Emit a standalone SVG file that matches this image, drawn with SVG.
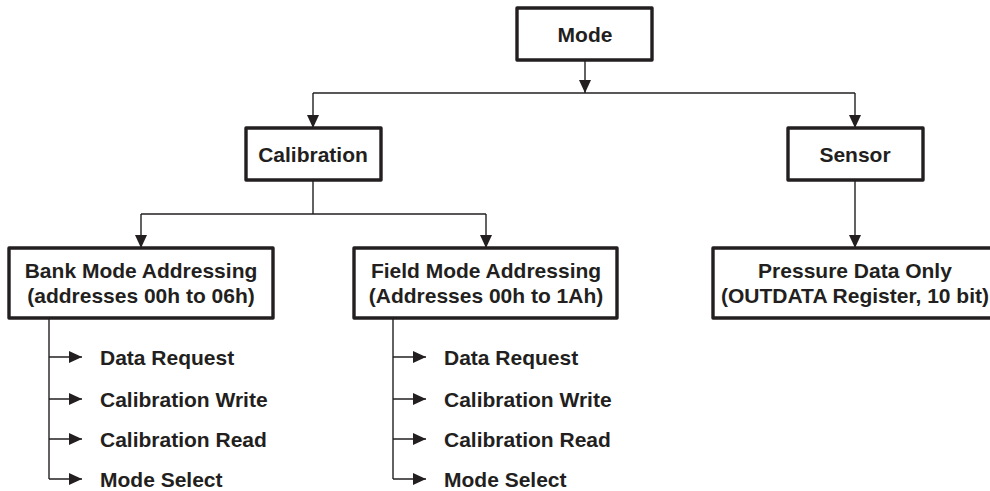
<svg xmlns="http://www.w3.org/2000/svg" width="990" height="491" viewBox="0 0 990 491">
<style>
.box{fill:#fff;stroke:#231f20;stroke-width:3.4;stroke-linejoin:round}
.t{font-family:"Liberation Sans",Arial,sans-serif;font-weight:bold;font-size:21px;fill:#231f20;text-anchor:middle}
.l{font-family:"Liberation Sans",Arial,sans-serif;font-weight:bold;font-size:21px;fill:#231f20}
.c{fill:none;stroke:#231f20;stroke-width:1.4}
</style>
<defs>
<marker id="ah" markerUnits="userSpaceOnUse" markerWidth="14" markerHeight="12" refX="13" refY="6" orient="auto">
<path d="M0,0 L13,6 L0,12 Z" fill="#231f20"/>
</marker>
</defs>
<rect width="990" height="491" fill="#fff"/>
<g id="connectors">
<path class="c" d="M585,60 V93" marker-end="url(#ah)"/>
<path class="c" d="M313,93 H855"/>
<path class="c" d="M313,93 V128" marker-end="url(#ah)"/>
<path class="c" d="M855,93 V128" marker-end="url(#ah)"/>
<path class="c" d="M313,180 V214"/>
<path class="c" d="M141,214 H486"/>
<path class="c" d="M141,214 V248" marker-end="url(#ah)"/>
<path class="c" d="M486,214 V248" marker-end="url(#ah)"/>
<path class="c" d="M855,180 V248" marker-end="url(#ah)"/>
<path class="c" d="M49,318 V479"/>
<path class="c" d="M49,357 H82" marker-end="url(#ah)"/>
<path class="c" d="M49,399 H82" marker-end="url(#ah)"/>
<path class="c" d="M49,439 H82" marker-end="url(#ah)"/>
<path class="c" d="M49,479 H82" marker-end="url(#ah)"/>
<path class="c" d="M393,318 V479"/>
<path class="c" d="M393,357 H426" marker-end="url(#ah)"/>
<path class="c" d="M393,399 H426" marker-end="url(#ah)"/>
<path class="c" d="M393,439 H426" marker-end="url(#ah)"/>
<path class="c" d="M393,479 H426" marker-end="url(#ah)"/>
</g>
<g id="mode">
<rect class="box" x="517" y="8" width="135" height="52"/>
<text class="t" x="585" y="41.5">Mode</text>
</g>
<g id="calibration">
<rect class="box" x="246" y="128" width="135" height="52"/>
<text class="t" x="313" y="161.5">Calibration</text>
</g>
<g id="sensor">
<rect class="box" x="788" y="128" width="135" height="52"/>
<text class="t" x="855" y="161.5">Sensor</text>
</g>
<g id="bank">
<rect class="box" x="9" y="248" width="264" height="70"/>
<text class="t" x="141" y="277.5">Bank Mode Addressing</text>
<text class="t" x="141" y="302.5">(addresses 00h to 06h)</text>
</g>
<g id="field">
<rect class="box" x="354" y="248" width="263" height="70"/>
<text class="t" x="486" y="277.5">Field Mode Addressing</text>
<text class="t" x="486" y="302.5">(Addresses 00h to 1Ah)</text>
</g>
<g id="pressure">
<rect class="box" x="713" y="248" width="284" height="70"/>
<text class="t" x="855" y="277.5">Pressure Data Only</text>
<text class="t" x="855" y="302.5">(OUTDATA Register, 10 bit)</text>
</g>
<g id="bank-items">
<text class="l" x="100" y="364.5">Data Request</text>
<text class="l" x="100" y="406.5">Calibration Write</text>
<text class="l" x="100" y="446.5">Calibration Read</text>
<text class="l" x="100" y="486.5">Mode Select</text>
</g>
<g id="field-items">
<text class="l" x="444" y="364.5">Data Request</text>
<text class="l" x="444" y="406.5">Calibration Write</text>
<text class="l" x="444" y="446.5">Calibration Read</text>
<text class="l" x="444" y="486.5">Mode Select</text>
</g>
</svg>
